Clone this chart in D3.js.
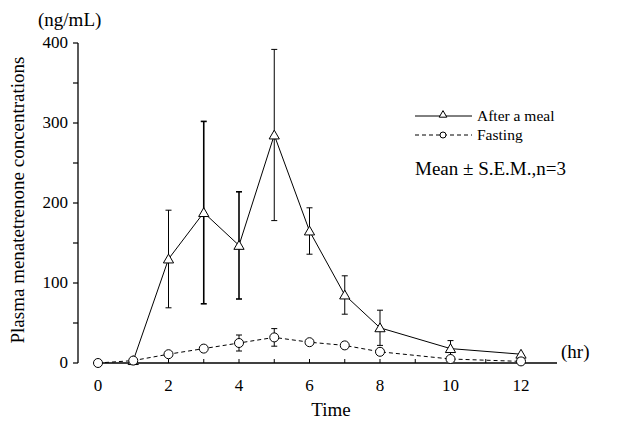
<!DOCTYPE html>
<html>
<head>
<meta charset="utf-8">
<script src="https://cdn.jsdelivr.net/npm/d3@7"></script>
<style>
  body { margin: 0; background: #fff; }
  text { font-family: "Liberation Serif", "DejaVu Serif", serif; fill: #000; }
</style>
</head>
<body>
<svg id="chart" width="619" height="421"></svg>
<script>
// data
const mealTime = [1, 2, 3, 4, 5, 6, 7, 8, 10, 12];
const mealMean = [3, 130, 188, 147, 285, 165, 85, 44, 18, 11];
const mealSem = [0, 61, 114, 67, 107, 29, 24, 22, 10, 0];
const fastTime = [0, 1, 2, 3, 4, 5, 6, 7, 8, 10, 12];
const fastMean = [0, 3, 11, 18, 25, 32, 26, 22, 14, 5, 2];
const fastSem = [0, 0, 0, 0, 10, 11, 3, 3, 4, 0, 0];
const xTicks = [0, 2, 4, 6, 8, 10, 12];
const yTicks = [0, 100, 200, 300, 400];

const svg = d3.select('#chart');

const x = d3.scaleLinear().domain([0, 12]).range([98, 521]);
const y = d3.scaleLinear().domain([0, 400]).range([363, 43]);

// y axis
const yAxis = svg.append('g').attr('transform', 'translate(78,0)');
yAxis.append('line').attr('x1', 0).attr('x2', 0).attr('y1', y(400)).attr('y2', y(0))
    .attr('stroke', '#000').attr('stroke-width', 1.3);
yAxis.selectAll('.minor').data(d3.range(0, 401, 50)).enter().append('line')
    .attr('x1', -5).attr('x2', 0)
    .attr('y1', d => y(d)).attr('y2', d => y(d))
    .attr('stroke', '#000').attr('stroke-width', 1.2);
yAxis.selectAll('.lbl').data(yTicks).enter().append('text')
    .attr('x', -10).attr('y', d => y(d) + 5)
    .attr('text-anchor', 'end').style('font-size', '17px')
    .text(d => d);

// x axis
const xAxis = svg.append('g').attr('transform', 'translate(0,363)');
xAxis.append('line').attr('x1', 97).attr('x2', 557).attr('y1', 0).attr('y2', 0)
    .attr('stroke', '#000').attr('stroke-width', 1.3);
xAxis.selectAll('.tk').data(d3.range(1, 13)).enter().append('line')
    .attr('x1', d => x(d)).attr('x2', d => x(d))
    .attr('y1', -4).attr('y2', 0)
    .attr('stroke', '#000').attr('stroke-width', 1);
xAxis.selectAll('.lbl').data(xTicks).enter().append('text')
    .attr('x', d => x(d)).attr('y', 28)
    .attr('text-anchor', 'middle').style('font-size', '17px')
    .text(d => d);

svg.append('text').attr('x', 38).attr('y', 26).style('font-size', '19px').text('(ng/mL)');
svg.append('text').attr('x', 561).attr('y', 358).style('font-size', '19px').text('(hr)');
svg.append('text').attr('x', 331).attr('y', 416).attr('text-anchor', 'middle')
    .style('font-size', '19px').text('Time');
svg.append('text')
    .attr('transform', 'translate(24,200) rotate(-90)')
    .attr('text-anchor', 'middle').style('font-size', '19px')
    .text('Plasma menatetrenone concentrations');

// error bars
function errorBars(times, means, sems, widths) {
    const g = svg.append('g');
    times.forEach(function (t, i) {
        if (!sems[i]) return;
        const w = widths ? widths[i] : 1;
        const cx = x(t), top = y(means[i] + sems[i]), bot = y(Math.max(0, means[i] - sems[i]));
        g.append('line').attr('x1', cx).attr('x2', cx).attr('y1', top).attr('y2', bot)
            .attr('stroke', '#000').attr('stroke-width', w);
        [top, bot].forEach(function (yy) {
            g.append('line').attr('x1', cx - 3).attr('x2', cx + 3).attr('y1', yy).attr('y2', yy)
                .attr('stroke', '#000').attr('stroke-width', w);
        });
    });
}
errorBars(mealTime, mealMean, mealSem, [1, 1, 1.6, 1.6, 1, 1, 1, 1, 1, 1]);
errorBars(fastTime, fastMean, fastSem);

const line = d3.line().x(d => x(d[0])).y(d => y(d[1]));

// fasting
svg.append('path').datum(fastTime.map((t, i) => [t, fastMean[i]]))
    .attr('d', line).attr('fill', 'none').attr('stroke', '#000')
    .attr('stroke-width', 1).attr('stroke-dasharray', '4 3');
// after a meal
svg.append('path').datum(mealTime.map((t, i) => [t, mealMean[i]]))
    .attr('d', line).attr('fill', 'none').attr('stroke', '#000').attr('stroke-width', 1);

const tri = d3.symbol().type(d3.symbolTriangle).size(45);
svg.append('g').selectAll('path').data(mealTime.map((t, i) => [t, mealMean[i]])).enter()
    .append('path').attr('d', tri)
    .attr('transform', d => 'translate(' + x(d[0]) + ',' + (y(d[1]) + 1) + ')')
    .attr('fill', '#fff').attr('stroke', '#000').attr('stroke-width', 1);
svg.append('g').selectAll('circle').data(fastTime.map((t, i) => [t, fastMean[i]])).enter()
    .append('circle').attr('cx', d => x(d[0])).attr('cy', d => y(d[1])).attr('r', 4.5)
    .attr('fill', '#fff').attr('stroke', '#000').attr('stroke-width', 1);

// legend
const lg = svg.append('g');
lg.append('line').attr('x1', 415).attr('x2', 472).attr('y1', 116).attr('y2', 116)
    .attr('stroke', '#000').attr('stroke-width', 1);
lg.append('path').attr('d', d3.symbol().type(d3.symbolTriangle).size(25))
    .attr('transform', 'translate(443,115)')
    .attr('fill', '#fff').attr('stroke', '#000');
lg.append('text').attr('x', 477).attr('y', 121).style('font-size', '15.5px').text('After a meal');
lg.append('line').attr('x1', 415).attr('x2', 472).attr('y1', 135).attr('y2', 135)
    .attr('stroke', '#000').attr('stroke-width', 1).attr('stroke-dasharray', '4 3');
lg.append('circle').attr('cx', 443).attr('cy', 135).attr('r', 3)
    .attr('fill', '#fff').attr('stroke', '#000');
lg.append('text').attr('x', 477).attr('y', 140).style('font-size', '15.5px').text('Fasting');
lg.append('text').attr('x', 415).attr('y', 175).style('font-size', '19px').text('Mean ± S.E.M.,n=3');
</script>
</body>
</html>
